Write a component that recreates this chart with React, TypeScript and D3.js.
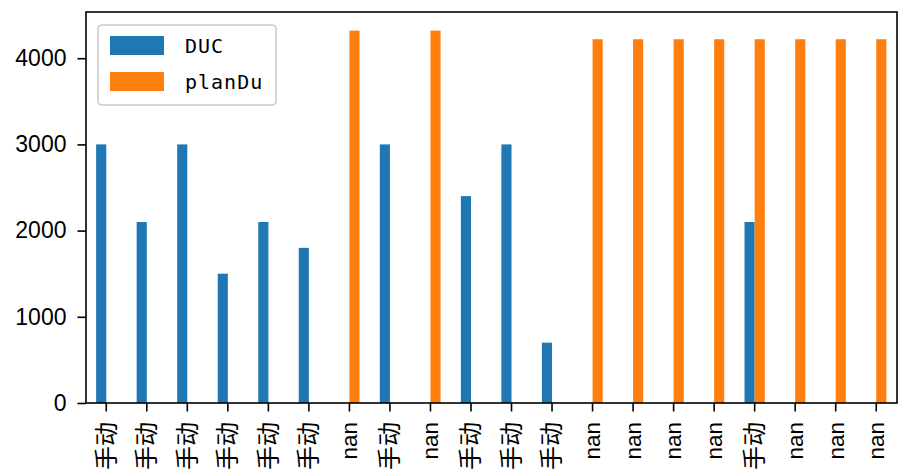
import { useEffect, useRef } from "react"
import * as d3 from "d3"

const categories = [
  "手动", "手动", "手动", "手动", "手动", "手动", "nan", "手动", "nan", "手动",
  "手动", "手动", "nan", "nan", "nan", "nan", "手动", "nan", "nan", "nan",
]
const ducValues = [
  3000, 2100, 3000, 1500, 2100, 1800, null, 3000, null, 2400,
  3000, 700, null, null, null, null, 2100, null, null, null,
]
const planDuValues = [
  null, null, null, null, null, null, 4320, null, 4320, null,
  null, null, 4220, 4220, 4220, 4220, 4220, 4220, 4220, 4220,
]
const seriesNames = ["DUC", "planDu"]
const yTicks = [0, 1000, 2000, 3000, 4000]

export default function App() {
  const svgRef = useRef(null)

  useEffect(() => {
    const width = 899
    const height = 473
    const margin = { top: 12, right: 2, bottom: 70, left: 86 }

    const svg = d3.select(svgRef.current).attr("width", width).attr("height", height)
    svg.selectAll("*").remove()

    const colors = ["#1f77b4", "#ff7f0e"]
    const series = [ducValues, planDuValues]

    const x = d3
      .scaleBand<number>()
      .domain(categories.map((_, i) => i))
      .range([margin.left, width - margin.right - 0.5])
      .paddingInner(0.5)
      .paddingOuter(0.25)

    const yMax = d3.max([...ducValues, ...planDuValues], (d) => d ?? 0) * 1.05
    const y = d3
      .scaleLinear()
      .domain([0, yMax])
      .range([height - margin.bottom, margin.top])

    const sub = d3.scaleBand<number>().domain([0, 1]).range([0, x.bandwidth()])

    series.forEach((vals, s) => {
      svg
        .append("g")
        .selectAll("rect")
        .data(vals.map((v, i) => ({ v, i })).filter((d) => d.v != null))
        .enter()
        .append("rect")
        .attr("x", (d) => x(d.i) + sub(s))
        .attr("y", (d) => y(d.v))
        .attr("width", sub.bandwidth())
        .attr("height", (d) => y(0) - y(d.v))
        .attr("fill", colors[s])
    })

    // y axis
    const yAxis = svg
      .append("g")
      .attr("transform", `translate(${margin.left},0)`)
      .call(d3.axisLeft(y).tickValues(yTicks).tickSize(8.5).tickPadding(11).tickFormat(d3.format("d")))
    yAxis.select(".domain").remove()
    yAxis.selectAll("line").attr("stroke", "#000").attr("stroke-width", 1.6)
    yAxis
      .selectAll("text")
      .attr("font-family", "Liberation Sans, Arial")
      .attr("font-size", 23)
      .attr("fill", "#000")

    // x axis
    const xAxis = svg
      .append("g")
      .attr("transform", `translate(0,${height - margin.bottom})`)
      .call(
        d3
          .axisBottom(x)
          .tickSize(8.5)
          .tickFormat((i) => categories[i])
      )
    xAxis.select(".domain").remove()
    xAxis.selectAll("line").attr("stroke", "#000").attr("stroke-width", 1.6)
    xAxis
      .selectAll("text")
      .attr("font-family", "Liberation Sans, Noto Sans CJK SC")
      .attr("font-size", (i) => (categories[i] === "nan" ? 22.5 : 24))
      .attr("fill", "#000")
      .attr("text-anchor", "end")
      .attr("dy", "0.35em")
      .attr("y", 0)
      .attr("transform", "translate(0,19) rotate(-90)")

    // frame
    svg
      .append("rect")
      .attr("x", margin.left)
      .attr("y", margin.top)
      .attr("width", width - margin.right - margin.left)
      .attr("height", height - margin.bottom - margin.top)
      .attr("fill", "none")
      .attr("stroke", "#000")
      .attr("stroke-width", 1.6)

    // legend
    const legend = svg.append("g").attr("transform", "translate(98,25)")
    legend
      .append("rect")
      .attr("width", 178)
      .attr("height", 80)
      .attr("rx", 4)
      .attr("fill", "#fff")
      .attr("fill-opacity", 0.8)
      .attr("stroke", "#cccccc")
      .attr("stroke-width", 1.6)
    seriesNames.forEach((name, i) => {
      legend
        .append("rect")
        .attr("x", 12)
        .attr("y", 11 + i * 36)
        .attr("width", 54)
        .attr("height", 19)
        .attr("fill", colors[i])
      legend
        .append("text")
        .attr("x", 87)
        .attr("y", 21 + i * 36)
        .attr("dy", "0.35em")
        .attr("font-family", "DejaVu Sans Mono")
        .attr("font-size", 20)
        .attr("letter-spacing", 1)
        .text(name)
    })
  }, [])

  return <svg ref={svgRef} style={{ position: "absolute", left: 0, top: 0 }}></svg>
}
